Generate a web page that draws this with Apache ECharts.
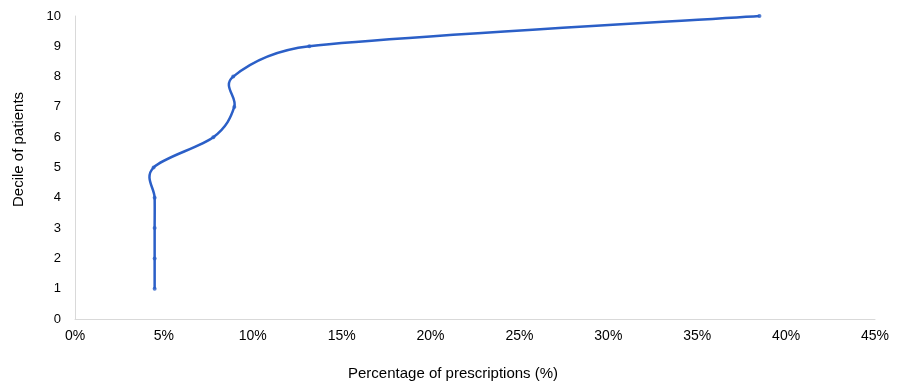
<!DOCTYPE html>
<html>
<head>
<meta charset="utf-8">
<script src="https://cdn.jsdelivr.net/npm/echarts@6/dist/echarts.min.js"></script>
<style>html,body{margin:0;padding:0;background:#fff}#c{width:898px;height:385px}</style>
</head>
<body>
<div id="c"></div>
<script>
const deciles = [1, 2, 3, 4, 5, 6, 7, 8, 9, 10];
const pctPrescriptions = [4.48, 4.48, 4.48, 4.48, 4.42, 7.78, 8.96, 8.9, 13.18, 38.5];
const xTicks = [0, 5, 10, 15, 20, 25, 30, 35, 40, 45];
const yTicks = [0, 1, 2, 3, 4, 5, 6, 7, 8, 9, 10];

const points = deciles.map((d, i) => [pctPrescriptions[i], d]);
const color = '#2b5fc7';
const chart = echarts.init(document.getElementById('c'), null, {renderer: 'canvas'});
const font = 'Liberation Sans, Arial, Helvetica, sans-serif';

// Excel-style smoothed line: Catmull-Rom tangents (1/6), control arm capped at half the segment length
function arm(v, segLen) {
  const len = Math.hypot(v[0], v[1]) / 6;
  const cap = segLen / 2;
  const s = len > cap && len > 0 ? cap / len : 1;
  return [v[0] / 6 * s, v[1] / 6 * s];
}
function renderSmooth(params, api) {
  if (params.dataIndex !== 0) return null;
  const p = points.map(pt => api.coord(pt));
  const n = p.length;
  let d = 'M' + p[0][0] + ' ' + p[0][1];
  for (let i = 0; i < n - 1; i++) {
    const p0 = p[Math.max(i - 1, 0)], p1 = p[i], p2 = p[i + 1], p3 = p[Math.min(i + 2, n - 1)];
    const seg = Math.hypot(p2[0] - p1[0], p2[1] - p1[1]);
    const a1 = arm([p2[0] - p0[0], p2[1] - p0[1]], seg);
    const a2 = arm([p3[0] - p1[0], p3[1] - p1[1]], seg);
    const c1 = [p1[0] + a1[0], p1[1] + a1[1]];
    const c2 = [p2[0] - a2[0], p2[1] - a2[1]];
    d += ' C' + c1[0] + ' ' + c1[1] + ' ' + c2[0] + ' ' + c2[1] + ' ' + p2[0] + ' ' + p2[1];
  }
  return {
    type: 'path',
    shape: {pathData: d},
    style: {fill: null, stroke: color, lineWidth: 2.5}
  };
}

chart.setOption({
  animation: false,
  grid: {left: 75, right: 23, top: 16, bottom: 66, containLabel: false},
  xAxis: {
    type: 'value', min: xTicks[0], max: xTicks[xTicks.length - 1], interval: 5,
    axisLine: {show: true, lineStyle: {color: '#d9d9d9', width: 1}},
    axisTick: {show: false},
    splitLine: {show: false},
    axisLabel: {formatter: v => v + '%', color: '#000', fontSize: 14, fontFamily: font, margin: 10}
  },
  yAxis: {
    type: 'value', min: yTicks[0], max: yTicks[yTicks.length - 1], interval: 1,
    axisLine: {show: true, lineStyle: {color: '#d9d9d9', width: 1}},
    axisTick: {show: false},
    splitLine: {show: false},
    axisLabel: {color: '#000', fontSize: 13, fontFamily: font, margin: 14}
  },
  graphic: [
    {type: 'text', left: 348, top: 366, style: {text: 'Percentage of prescriptions (%)', fill: '#000', font: '15px ' + font}},
    {type: 'text', x: 11, y: 207, rotation: Math.PI / 2, style: {text: 'Decile of patients', fill: '#000', font: '15px ' + font, align: 'left', verticalAlign: 'top'}}
  ],
  series: [{
    type: 'custom',
    data: points,
    renderItem: renderSmooth,
    clip: false,
    silent: true
  }, {
    type: 'scatter',
    data: points,
    symbol: 'circle', symbolSize: 4,
    itemStyle: {color: color}
  }]
});
</script>
</body>
</html>
